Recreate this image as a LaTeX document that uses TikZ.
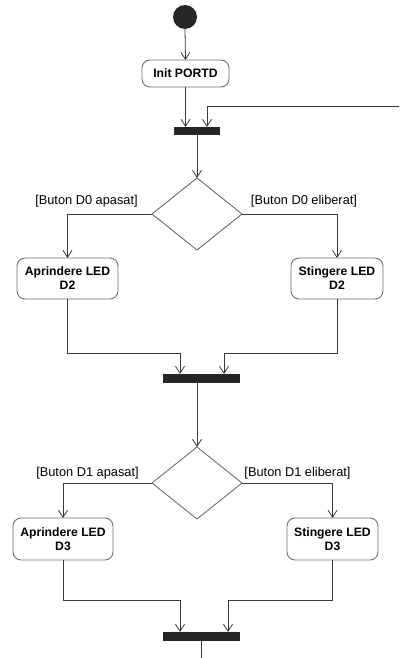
\documentclass[tikz,border=0pt]{standalone}
\usepackage{fontspec}
\setmainfont{Liberation Sans}
\usetikzlibrary{shapes.geometric,arrows.meta}
\definecolor{lineC}{HTML}{3A3A3A}
\definecolor{boxC}{HTML}{707070}
\definecolor{barC}{HTML}{262626}
\tikzset{
  actbox/.style={draw=boxC, line width=0.9pt, rounded corners=8pt, fill=white, inner sep=0pt, outer sep=0pt,
    align=center, font=\fontsize{12.2}{14}\selectfont\bfseries},
  syncbar/.style={fill=barC, draw=none, inner sep=0pt, outer sep=0pt},
  decision/.style={diamond, draw=boxC, line width=0.9pt, inner sep=0pt, outer sep=0pt, minimum width=90pt, minimum height=72pt},
  guard/.style={inner sep=0pt, font=\fontsize{12.8}{14}\selectfont},
  arr/.style={draw=lineC, line width=0.8pt, -{Straight Barb[length=7pt,width=9pt,line width=0.8pt]}},
  ln/.style={draw=lineC, line width=0.8pt}
}
\begin{document}
\begin{tikzpicture}[x=1pt,y=-1pt]
\useasboundingbox (0,0) rectangle (399,658);
% nodes
\node[circle, fill=barC, minimum size=24pt, inner sep=0pt] (start) at (185,17) {};
\node[actbox, minimum width=87pt, minimum height=27pt] (init) at (185.5,73.5) {Init PORTD};
\node[syncbar, minimum width=46pt, minimum height=8pt] (bar1) at (197,131) {};
\node[decision] (dec1) at (197,214) {};
\node[actbox, minimum width=101pt, minimum height=41pt] (a2) at (67.5,278.5) {Aprindere LED\\D2};
\node[actbox, minimum width=92pt, minimum height=41pt] (s2) at (337,278.5) {Stingere LED\\D2};
\node[syncbar, minimum width=77pt, minimum height=9pt] (bar2) at (201.5,378.5) {};
\node[decision] (dec2) at (197,483) {};
\node[actbox, minimum width=100pt, minimum height=42pt] (a3) at (63,539) {Aprindere LED\\D3};
\node[actbox, minimum width=91pt, minimum height=42pt] (s3) at (332.5,539) {Stingere LED\\D3};
\node[syncbar, minimum width=77pt, minimum height=9pt] (bar3) at (201.5,636.5) {};
% guards
\node[guard] (g1) at (86.5,201) {[Buton D0 apasat]};
\node[guard] (g2) at (304,201) {[Buton D0 eliberat]};
\node[guard] (g3) at (87.5,473) {[Buton D1 apasat]};
\node[guard] (g4) at (297.5,473) {[Buton D1 eliberat]};
% helper coordinates
\coordinate (loopend) at (399,106);
\coordinate (j2) at (0,353);
\coordinate (j3) at (0,600);
\coordinate (endpt) at (201,658);
% connectors
\draw[arr] (start.south) -- (init.north);
\draw[arr] (init.south) -- (init.south |- bar1.north);
\draw[arr] (loopend) -| ([xshift=10pt]bar1.north);
\draw[arr] (bar1.south) -- (dec1.north);
\draw[arr] (dec1.west) -| (a2.north);
\draw[arr] (dec1.east) -| (s2.north);
\draw[arr] (a2.south) -- (a2.south |- j2) -| ([xshift=-21.5pt]bar2.north);
\draw[arr] (s2.south) -- (s2.south |- j2) -| ([xshift=22.5pt]bar2.north);
\draw[arr] (dec2.north |- bar2.south) -- (dec2.north);
\draw[arr] (dec2.west) -| (a3.north);
\draw[arr] (dec2.east) -| (s3.north);
\draw[arr] (a3.south) -- (a3.south |- j3) -| ([xshift=-21.5pt]bar3.north);
\draw[arr] (s3.south) -- (s3.south |- j3) -| ([xshift=26.5pt]bar3.north);
\draw[ln] (bar3.south -| endpt) -- (endpt);
\end{tikzpicture}
\end{document}
